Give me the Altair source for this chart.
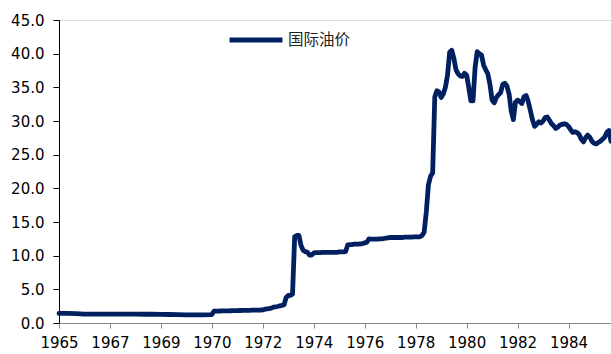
import altair as alt
import pandas as pd

# Axis labels, one every 24 positions along the category axis
tick_labels = ["1965", "1967", "1969", "1970", "1972", "1974",
               "1976", "1978", "1980", "1982", "1984"]
tick_step = 24

# 1965-1969 prices, one value every 4 axis positions
early_step = 4
early_prices = [1.42, 1.42, 1.40, 1.33, 1.32, 1.32, 1.32, 1.32, 1.32,
                1.31, 1.30, 1.30, 1.28, 1.26, 1.25, 1.22, 1.20, 1.20]

# Monthly prices from January 1970 (USD / barrel)
monthly_prices = {
    1970: [1.25, 1.75, 1.76, 1.77, 1.78, 1.79, 1.80, 1.80, 1.81, 1.82, 1.83, 1.84],
    1971: [1.85, 1.86, 1.86, 1.87, 1.88, 1.88, 1.89, 1.90, 1.90, 1.91, 1.92, 1.93],
    1972: [1.95, 2.05, 2.10, 2.15, 2.20, 2.35, 2.40, 2.45, 2.55, 2.60, 2.70, 3.80],
    1973: [4.10, 4.10, 4.30, 12.8, 13.0, 13.0, 11.5, 10.8, 10.6, 10.5, 10.1, 10.1],
    1974: [10.4, 10.45, 10.45, 10.45, 10.5, 10.5, 10.5, 10.5, 10.5, 10.5, 10.5, 10.5],
    1975: [10.55, 10.55, 10.55, 10.6, 11.6, 11.65, 11.65, 11.7, 11.7, 11.7, 11.75, 11.8],
    1976: [11.9, 12.0, 12.5, 12.45, 12.45, 12.45, 12.45, 12.5, 12.5, 12.55, 12.6, 12.65],
    1977: [12.7, 12.7, 12.7, 12.7, 12.7, 12.7, 12.7, 12.75, 12.75, 12.75, 12.75, 12.8],
    1978: [12.8, 12.8, 12.8, 13.0, 13.5, 16.5, 20.5, 21.8, 22.3, 33.6, 34.5, 34.3],
    1979: [33.5, 34.0, 35.0, 36.8, 40.2, 40.5, 39.3, 37.6, 37.0, 36.7, 36.6, 37.1],
    1980: [36.8, 35.0, 33.0, 33.0, 38.0, 40.3, 40.0, 39.8, 38.3, 37.6, 37.0, 35.4],
    1981: [33.1, 32.7, 33.5, 33.9, 34.2, 35.4, 35.6, 35.2, 34.0, 31.5, 30.2, 32.8],
    1982: [33.1, 32.9, 32.6, 33.6, 33.8, 32.9, 31.6, 30.2, 29.2, 29.5, 29.9, 29.7],
    1983: [30.0, 30.5, 30.6, 30.1, 29.6, 29.3, 28.9, 29.1, 29.4, 29.5, 29.6, 29.5],
    1984: [29.2, 28.7, 28.3, 28.4, 28.3, 28.0, 27.3, 26.9, 27.5, 27.9, 27.6, 27.0],
    1985: [26.7, 26.6, 26.8, 27.0, 27.3, 27.6, 28.3, 28.6, 27.0],
}

series_name = "国际油价"

# Position of each value on the category axis
slots, prices = [], []
for i, p in enumerate(early_prices):
    slots.append(i * early_step)
    prices.append(p)
start = tick_labels.index("1970") * tick_step
k = 0
for year in sorted(monthly_prices):
    for p in monthly_prices[year]:
        slots.append(start + k)
        prices.append(p)
        k += 1

df = pd.DataFrame({"slot": slots, "price": prices, "series": series_name})

label_expr = "[" + ",".join(f"'{t}'" for t in tick_labels) + "][round(datum.value / %d)]" % tick_step
x_max = slots[-1]

axis_font = "DejaVu Sans"

chart = alt.Chart(df).mark_line(
    strokeWidth=4.8, strokeCap="round", strokeJoin="round"
).encode(
    x=alt.X(
        "slot:Q",
        scale=alt.Scale(domain=[0, x_max], nice=False, zero=False),
        axis=alt.Axis(
            values=[i * tick_step for i in range(len(tick_labels))],
            labelExpr=label_expr, title=None, grid=False,
            tickSize=5, labelPadding=7, domainColor="#868686", tickColor="#868686",
            labelFont=axis_font, labelFontSize=15, labelColor="#000",
            labelFlush=False, labelOverlap=False,
        ),
    ),
    y=alt.Y(
        "price:Q",
        scale=alt.Scale(domain=[0, 45], nice=False),
        axis=alt.Axis(
            values=list(range(0, 46, 5)), format=".1f", title=None, grid=False,
            tickSize=6, labelPadding=9, domainColor="#000", tickColor="#000",
            labelFont=axis_font, labelFontSize=15, labelColor="#000",
        ),
    ),
    color=alt.Color(
        "series:N",
        scale=alt.Scale(range=["#002060"]),
        legend=alt.Legend(
            title=None, orient="none", legendX=168, legendY=-9,
            symbolType="stroke", symbolSize=2800, symbolStrokeWidth=5,
            labelFont="Noto Sans CJK SC", labelFontSize=15.5, labelColor="#222",
            labelOffset=3,
        ),
    ),
).properties(
    width=552,
    height=303,
    autosize=alt.AutoSizeParams(type="none"),
    padding={"left": 59, "top": 20, "right": 0, "bottom": 31},
).configure_view(stroke=None).configure(background="white")

chart.save("out.html", embed_options={"renderer": "svg", "actions": False})
